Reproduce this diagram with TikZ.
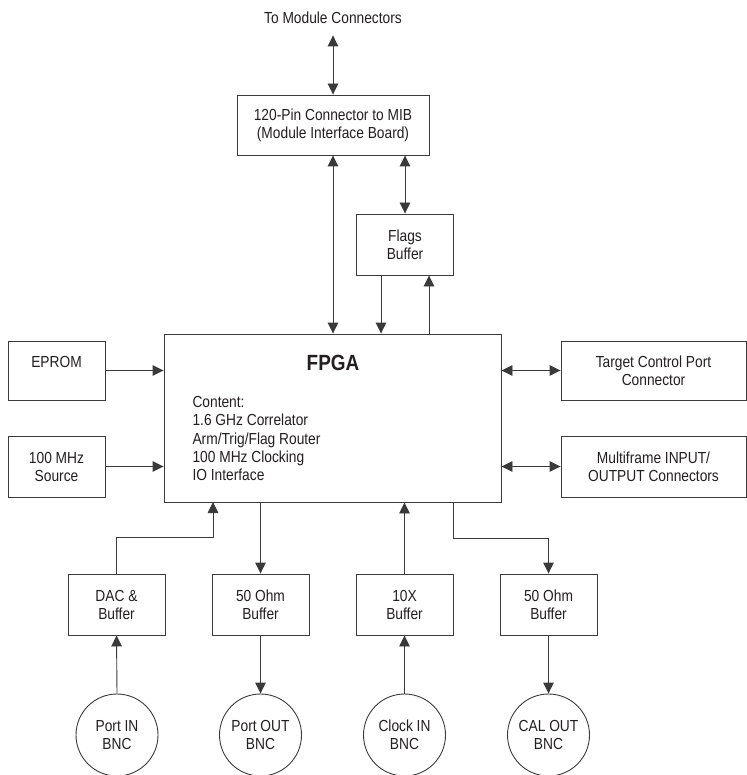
\documentclass[tikz,border=0pt]{standalone}
\usepackage{fontspec}
\setmainfont{Liberation Sans}[FakeStretch=0.86]
\usetikzlibrary{arrows.meta,calc}
\definecolor{hwInk}{HTML}{231F20}
\definecolor{hwLine}{HTML}{3A3A3A}
\tikzset{
  hw/base/.style={draw=hwLine, line width=0.9pt, align=center, text=hwInk,
    font=\fontsize{16}{18}\selectfont, inner sep=0pt},
  hw/block/.style={hw/base, rectangle, minimum width=97pt, minimum height=61pt},
  hw/bnc/.style={hw/base, circle, minimum size=82pt},
  hw/arrow/.style={-{Triangle[length=11pt,width=10.5pt]}, draw=hwLine,
    line width=0.9pt},
  hw/both/.style={{Triangle[length=11pt,width=10.5pt]}-{Triangle[length=11pt,width=10.5pt]},
    draw=hwLine, line width=0.9pt},
  hw/text/.style={font=\fontsize{16}{18.3}\selectfont, text=hwInk, align=left},
  hw/head/.style={font=\fontsize{22}{24}\selectfont\bfseries, text=hwInk},
}

\begin{document}
\begin{tikzpicture}[
    x=1pt, y=-1pt,
    wide/.style={hw/block, minimum width=185pt, minimum height=59pt},
]
\useasboundingbox (0,0) rectangle (746,775);

% top of the board
\node[hw/text, align=center] (modules) at (333,18) {To Module Connectors};
\node[hw/block, minimum width=192pt, minimum height=60pt] (mib) at (333,125)
  {120-Pin Connector to MIB\\(Module Interface Board)};
\node[hw/block] (flags) at (405,244.5) {Flags\\Buffer};

% the FPGA
\node[hw/base, minimum width=337pt, minimum height=168pt] (fpga) at (332.5,418) {};
\node[hw/head] (fpgahead) at (333,363) {FPGA};
\node[hw/text, anchor=west] (fpgalist) at (189,438.5)
  {Content:\\1.6 GHz Correlator\\Arm/Trig/Flag Router\\100 MHz Clocking\\IO Interface};

% side blocks
\node[hw/block, minimum height=59pt] (eprom) at (56.5,370.5) {EPROM\\~};
\node[hw/block] (source) at (56.5,466.5) {100 MHz\\Source};
\node[wide] (target) at (653.5,370.5) {Target Control Port\\Connector};
\node[wide, minimum height=61pt] (multi) at (653.5,466.5) {Multiframe INPUT/\\OUTPUT Connectors};

% bottom buffers and BNCs
\node[hw/block] (dac) at (116.5,604.5) {DAC \&\\Buffer};
\node[hw/block] (ohmA) at (260.5,604.5) {50 Ohm\\Buffer};
\node[hw/block] (tenx) at (404.5,604.5) {10X\\Buffer};
\node[hw/block] (ohmB) at (548.5,604.5) {50 Ohm\\Buffer};
\node[hw/bnc] (portin) at (117,735) {Port IN\\BNC};
\node[hw/bnc] (portout) at (260.5,735) {Port OUT\\BNC};
\node[hw/bnc] (clkin) at (404.5,735) {Clock IN\\BNC};
\node[hw/bnc] (calout) at (548.5,735) {CAL OUT\\BNC};

\coordinate (fpgaIn) at (213,502);
\coordinate (fpgaOut) at (453,502);

\draw[hw/both] ([yshift=-8pt]modules.south) -- (mib.north);
\draw[hw/both] (mib.south) -- (mib.south |- fpga.north);
\draw[hw/both] (flags.north |- mib.south) -- (flags.north);
\draw[hw/arrow] ([xshift=-24pt]flags.south) -- ([xshift=-24pt]flags.south |- fpga.north);
\draw[hw/arrow] ([xshift=24pt]flags.south |- fpga.north) -- ([xshift=24pt]flags.south);
\draw[hw/arrow] (eprom.east) -- (eprom.east -| fpga.west);
\draw[hw/arrow] (source.east) -- (source.east -| fpga.west);
\draw[hw/both] (target.west -| fpga.east) -- (target.west);
\draw[hw/both] (multi.west -| fpga.east) -- (multi.west);
\draw[hw/arrow] (dac.north) -- ++(0,-36) -| (fpgaIn);
\draw[hw/arrow] (ohmA.north |- fpga.south) -- (ohmA.north);
\draw[hw/arrow] (tenx.north) -- (tenx.north |- fpga.south);
\draw[hw/arrow] (fpgaOut) -- ++(0,36) -| (ohmB.north);
\draw[hw/arrow] (portin.north) -- (dac.south);
\draw[hw/arrow] (ohmA.south) -- (portout.north);
\draw[hw/arrow] (clkin.north) -- (tenx.south);
\draw[hw/arrow] (ohmB.south) -- (calout.north);
\end{tikzpicture}
\end{document}
